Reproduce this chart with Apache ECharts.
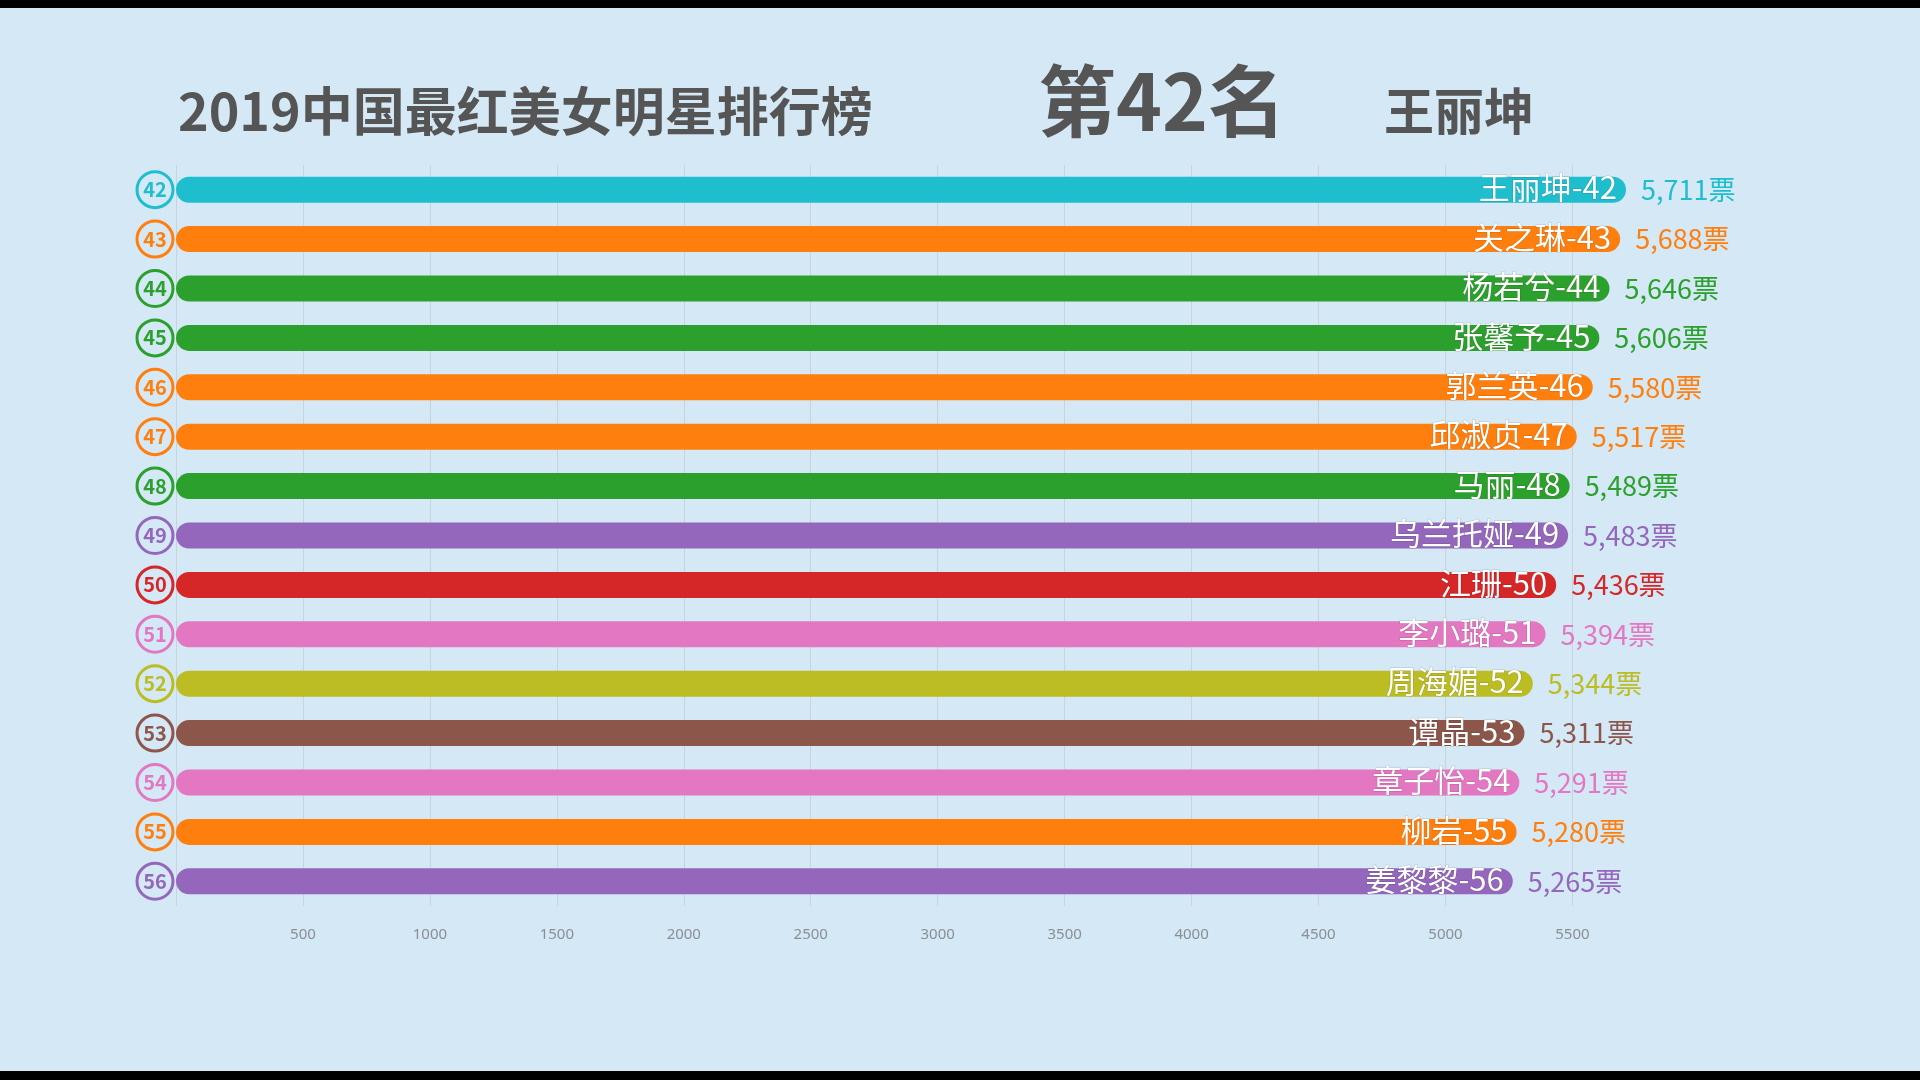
<!DOCTYPE html>
<html>
<head>
<meta charset="utf-8">
<script src="https://cdn.jsdelivr.net/npm/echarts@6/dist/echarts.min.js"></script>
<style>
html,body{margin:0;padding:0;background:#d5e8f5;}
#main{width:1920px;height:1080px;}
</style>
</head>
<body>
<div id="main"></div>
<script>
const ranks = ['42','43','44','45','46','47','48','49','50','51','52','53','54','55','56'];
const names = ['王丽坤','关之琳','杨若兮','张馨予','郭兰英','邱淑贞','马丽','乌兰托娅','江珊','李小璐','周海媚','谭晶','章子怡','柳岩','姜黎黎'];
const votes = [5711,5688,5646,5606,5580,5517,5489,5483,5436,5394,5344,5311,5291,5280,5265];
const colors = ['#1ebecf','#ff7f0e','#2ca02c','#2ca02c','#ff7f0e','#ff7f0e','#2ca02c','#9467bd','#d62728','#e377c2','#bcbd22','#8c564b','#e377c2','#ff7f0e','#9467bd'];
const titleText = '2019中国最红美女明星排行榜';
const rankText = '第42名';
const currentName = '王丽坤';

function fmt(n){ return String(n).replace(/\B(?=(\d{3})+(?!\d))/g, ','); }

const rich = {};
colors.forEach((c,i)=>{
  rich['r'+i] = {
    color: c, fontSize: 20, fontWeight: 'bold', fontFamily: 'Noto Sans CJK SC',
    width: 36, height: 36, lineHeight: 36, align: 'center',
    borderColor: c, borderWidth: 3, borderRadius: 21
  };
});

const chart = echarts.init(document.getElementById('main'));
chart.setOption({
  backgroundColor: '#d5e8f5',
  animation: false,
  graphic: [
    {type:'rect', left:0, top:0, shape:{width:1920, height:8}, style:{fill:'#000'}},
    {type:'rect', left:0, top:1071, shape:{width:1920, height:9}, style:{fill:'#000'}},
    {type:'text', left:178, top:85, style:{text:titleText, font:'bold 52px "Noto Sans CJK SC"', fill:'#555'}},
    {type:'text', left:1038, top:62, style:{text:rankText, font:'bold 78px "Noto Sans CJK SC"', fill:'#555'}},
    {type:'text', left:1384, top:86, style:{text:currentName, font:'bold 50px "Noto Sans CJK SC"', fill:'#555'}}
  ],
  grid: {left:176, right:294, top:165, bottom:174, containLabel:false},
  xAxis: {
    type:'value', min:0, max:'dataMax', interval:500,
    axisLine:{show:false}, axisTick:{show:false},
    splitLine:{show:true, showMaxLine:false, lineStyle:{color:'#c8d3dc', width:1}},
    axisLabel:{color:'#8a8f94', fontSize:15, margin:21, showMinLabel:false, showMaxLabel:false,
      fontFamily:'Noto Sans', formatter:v=>String(v)}
  },
  yAxis: {
    type:'category', inverse:true, data: ranks,
    axisLine:{show:false}, axisTick:{show:false},
    axisLabel:{margin:3, formatter:(v,i)=>'{r'+i+'|'+v+'}', rich: rich}
  },
  series: [
    {
      type:'bar', data: votes.map((v,i)=>({value:v, itemStyle:{color:colors[i]}})),
      barWidth:26, itemStyle:{borderRadius:13},
      label:{show:true, position:'insideRight', distance:9, color:'#fff', fontSize:31,
        fontFamily:'Noto Sans CJK SC', textBorderColor:'rgba(0,0,0,0.18)', textBorderWidth:1,
        offset:[0,-2],
        formatter:p=>names[p.dataIndex]+'-'+ranks[p.dataIndex]}
    },
    {
      type:'bar', barWidth:26, barGap:'-100%', silent:true,
      data: votes.map((v,i)=>({value:v, label:{color:colors[i]}})),
      itemStyle:{color:'rgba(0,0,0,0)'},
      label:{show:true, position:'right', distance:15, fontSize:27,
        fontFamily:'Noto Sans CJK SC',
        formatter:p=>fmt(p.value)+'票'}
    }
  ]
});
</script>
</body>
</html>
